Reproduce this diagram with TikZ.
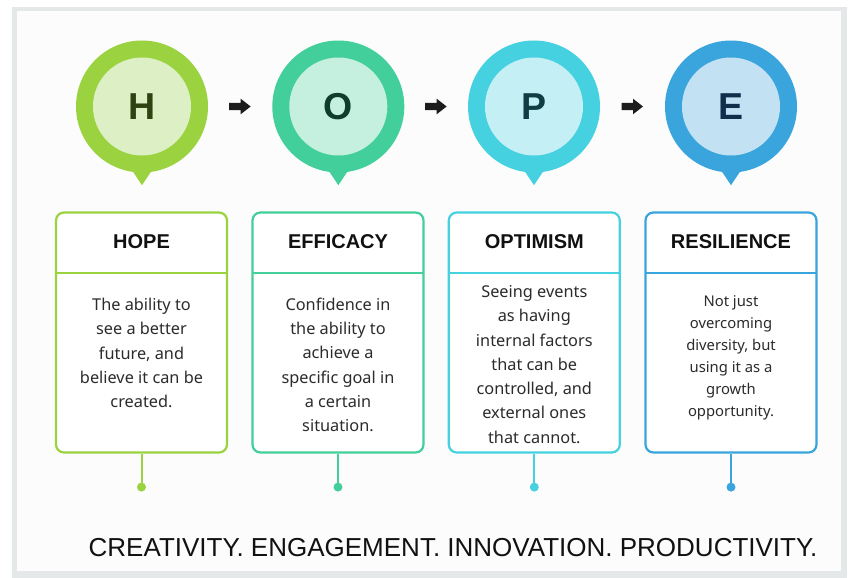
\documentclass[tikz,border=0pt]{standalone}
\usepackage{fontspec}
\setmainfont{Noto Sans}
\newfontfamily\tagfont{Liberation Sans}
\newfontfamily\headfont{Liberation Sans}[BoldFont={Liberation Sans Bold}]
\usetikzlibrary{calc}
\definecolor{frameg}{HTML}{E5E8E8}
\definecolor{panel}{HTML}{FCFCFC}
\definecolor{ca}{HTML}{9BD340}
\definecolor{cai}{HTML}{DDF0C5}
\definecolor{cat}{HTML}{2E4212}
\definecolor{cb}{HTML}{43CF9B}
\definecolor{cbi}{HTML}{C5EFDF}
\definecolor{cbt}{HTML}{0E3E2B}
\definecolor{cc}{HTML}{45D1E0}
\definecolor{cci}{HTML}{C4EFF4}
\definecolor{cct}{HTML}{0F3C45}
\definecolor{cd}{HTML}{3AA5DD}
\definecolor{cdi}{HTML}{C2E1F3}
\definecolor{cdt}{HTML}{0F2F4A}
\definecolor{titlec}{HTML}{111111}
\definecolor{bodyc}{HTML}{2B2B2B}
\definecolor{arrowc}{HTML}{1C1C1C}
\begin{document}
\begin{tikzpicture}[x=1pt,y=-1pt,
  ring/.style={circle, minimum size=132pt, inner sep=0pt, fill=#1},
  core/.style={circle, minimum size=98pt, inner sep=0pt, fill=#1, font=\headfont\fontsize{37.5}{37.5}\bfseries\selectfont},
  card/.style={draw=#1, line width=2.2pt, rounded corners=8pt, minimum width=171pt, minimum height=240pt, inner sep=0pt, fill=white},
  divider/.style={draw=#1, line width=1.8pt},
  cardtitle/.style={font=\headfont\fontsize{20}{20}\bfseries\selectfont, text=titlec},
  cardbody/.style={align=center, font=\fontsize{16.3}{24.3}\selectfont, text=bodyc},
  smallbody/.style={align=center, font=\fontsize{14.8}{21.9}\selectfont, text=bodyc},
  stem/.style={draw=#1, line width=2pt},
  dot/.style={circle, fill=#1, minimum size=9pt, inner sep=0pt},
  flow/.style={fill=arrowc}
]
\useasboundingbox (0,0) rectangle (852,578);
\fill[white] (0,0) rectangle (852,578);
\fill[frameg] (12,7) rectangle (847,578);
\fill[panel] (17,11) rectangle (841,571);

% circles
\foreach \n/\x/\c/\l in {1/142/ca/H, 2/338.3/cb/O, 3/534/cc/P, 4/731/cd/E}{
  \node[ring=\c] (r\n) at (\x,106.5) {};
  \fill[\c] ($(r\n.south)+(-11,-4)$) -- ($(r\n.south)+(0,12.5)$) -- ($(r\n.south)+(11,-4)$) -- cycle;
  \node[core=\c i, text=\c t] (k\n) at (r\n) {\l};
}

% arrows between circles
\foreach \a/\b in {1/2, 2/3, 3/4}{
  \coordinate (m\a) at ($(r\a)!0.5!(r\b)$);
  \fill[flow, shift={(m\a)}] (-11,-3.6) -- (0.5,-3.6) -- (0.5,-7.8) -- (10.5,0) -- (0.5,7.8) -- (0.5,3.6) -- (-11,3.6) -- cycle;
}

% cards
\foreach \n/\x/\c/\t in {1/141.5/ca/HOPE, 2/338/cb/EFFICACY, 3/534.3/cc/OPTIMISM, 4/731/cd/RESILIENCE}{
  \node[card=\c] (b\n) at (\x,332.5) {};
  \draw[divider=\c] ($(b\n.north west)+(1,61.5)$) -- ($(b\n.north east)+(-1,61.5)$);
  \node[cardtitle] (t\n) at ($(b\n.north)+(0,30.5)$) {\t};
  \coordinate (e\n) at ($(b\n.south)+(0,33.5)$);
  \node[dot=\c] (d\n) at (e\n) {};
  \draw[stem=\c] (b\n.south) -- (d\n.center);
}

\node[cardbody] (x1) at (141.5,353) {The ability to\\see a better\\future, and\\believe it can be\\created.};
\node[cardbody] (x2) at (338,365) {Confidence in\\the ability to\\achieve a\\specific goal in\\a certain\\situation.};
\node[cardbody] (x3) at (534.3,364.5) {Seeing events\\as having\\internal factors\\that can be\\controlled, and\\external ones\\that cannot.};
\node[smallbody] (x4) at (731,358) {Not just\\overcoming\\diversity, but\\using it as a\\growth\\opportunity.};

\node[anchor=base west, inner sep=0pt, font=\tagfont\fontsize{26}{26}\selectfont, text=titlec] (tag) at (88.5,556.5) {CREATIVITY. ENGAGEMENT. INNOVATION. PRODUCTIVITY.};
\end{tikzpicture}
\end{document}
